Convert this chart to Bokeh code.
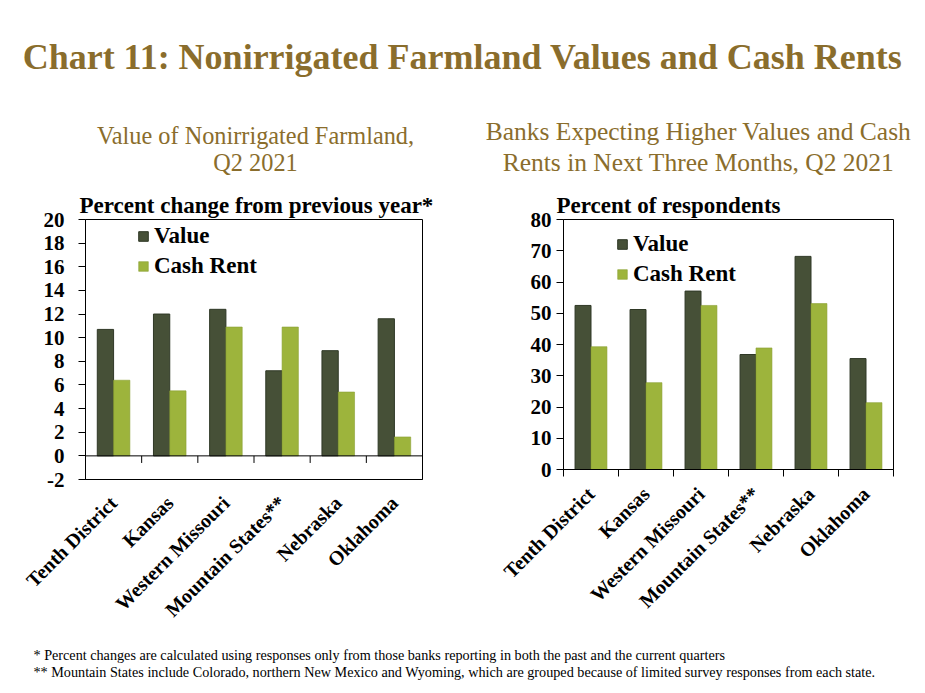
import numpy as np
from bokeh.plotting import figure
from bokeh.models import Range1d, FixedTicker, Span, Title, Label
from bokeh.layouts import column, row
from bokeh.embed import file_html
from bokeh.resources import INLINE

# ---------------- data ----------------
categories = ["Tenth District", "Kansas", "Western Missouri",
              "Mountain States**", "Nebraska", "Oklahoma"]
series_names = ["Value", "Cash Rent"]
left_value = [10.7, 12.0, 12.4, 7.2, 8.9, 11.6]
left_cash = [6.4, 5.5, 10.9, 10.9, 5.4, 1.6]
right_value = [52.5, 51.2, 57.1, 36.8, 68.2, 35.5]
right_cash = [39.3, 27.8, 52.5, 38.9, 53.1, 21.4]
left_ticks = [-2, 0, 2, 4, 6, 8, 10, 12, 14, 16, 18, 20]
right_ticks = [0, 10, 20, 30, 40, 50, 60, 70, 80]

main_title = "Chart 11: Nonirrigated Farmland Values and Cash Rents"
left_subtitle = ["Value of Nonirrigated Farmland,", "Q2 2021"]
right_subtitle = ["Banks Expecting Higher Values and Cash",
                  "Rents in Next Three Months, Q2 2021"]
left_ylabel = "Percent change from previous year*"
right_ylabel = "Percent of respondents"
footnotes = [
    "* Percent changes are calculated using responses only from those banks reporting in both the past and the current quarters",
    "** Mountain States include Colorado, northern New Mexico and Wyoming, which are grouped because of limited survey responses from each state.",
]

# ---------------- styles ----------------
FONT = "Liberation Serif"
GOLD = "#8a6d2c"
VALUE_C = "#465037"
VALUE_L = "#2f3826"
CASH_C = "#9db43c"
CASH_L = "#8aa032"
BAR_W = 0.29
PAGE_W = 925

n = len(categories)
centers = [i + 0.5 for i in range(n)]
bounds = [float(i) for i in range(n + 1)]
overrides = {c: name for c, name in zip(centers, categories)}


def base_fig(fw, fh, bl, br, bt, bb, yr):
    p = figure(frame_width=fw, frame_height=fh,
               min_border_left=bl, min_border_right=br,
               min_border_top=bt, min_border_bottom=bb,
               x_range=Range1d(0, n), y_range=Range1d(*yr),
               toolbar_location=None, output_backend="svg")
    p.xgrid.visible = False
    p.ygrid.visible = False
    p.outline_line_color = "black"
    p.outline_line_width = 1
    p.background_fill_color = "white"
    p.border_fill_color = "white"
    return p


def add_bars(p, value, cash):
    xv = [c - BAR_W / 2 for c in centers]
    xc = [c + BAR_W / 2 for c in centers]
    p.vbar(x=xv, top=value, bottom=0, width=BAR_W, fill_color=VALUE_C,
           line_color=VALUE_L, line_width=1, legend_label=series_names[0])
    p.vbar(x=xc, top=cash, bottom=0, width=BAR_W, fill_color=CASH_C,
           line_color=CASH_L, line_width=0.6, legend_label=series_names[1])


def style_yaxis(p, ticks, standoff):
    ax = p.yaxis[0]
    ax.ticker = FixedTicker(ticks=ticks)
    ax.major_label_overrides = {t: str(t) for t in ticks}
    ax.major_tick_in = 0
    ax.major_tick_out = 7
    ax.minor_tick_line_color = None
    ax.axis_line_color = "black"
    ax.major_tick_line_color = "black"
    ax.major_label_text_font = FONT
    ax.major_label_text_font_style = "bold"
    ax.major_label_text_font_size = "21px"
    ax.major_label_text_color = "black"
    ax.major_label_standoff = standoff


def style_xaxis(p, standoff, boundary_ticks):
    ax = p.xaxis[0]
    if boundary_ticks:
        ax.ticker = FixedTicker(ticks=centers, minor_ticks=bounds)
        ax.minor_tick_in = 0
        ax.minor_tick_out = 7
        ax.minor_tick_line_color = "black"
    else:
        ax.ticker = FixedTicker(ticks=centers)
        ax.minor_tick_line_color = None
    ax.major_tick_line_color = None
    ax.major_tick_in = 0
    ax.major_tick_out = 0
    ax.major_label_overrides = overrides
    ax.major_label_orientation = np.pi / 4
    ax.axis_line_color = "black"
    ax.major_label_text_font = FONT
    ax.major_label_text_font_style = "bold"
    ax.major_label_text_font_size = "20px"
    ax.major_label_text_color = "black"
    ax.major_label_standoff = standoff


def style_legend(p, loc):
    lg = p.legend[0]
    lg.location = loc
    lg.label_text_font = FONT
    lg.label_text_font_style = "bold"
    lg.label_text_font_size = "23px"
    lg.label_text_color = "black"
    lg.glyph_width = 12
    lg.glyph_height = 12
    lg.label_standoff = 5
    lg.spacing = 4
    lg.padding = 0
    lg.margin = 0
    lg.border_line_color = None
    lg.background_fill_alpha = 0


def add_ylabel(p, text, offset):
    p.add_layout(Title(text=text, align="left", offset=offset, standoff=3,
                       text_font=FONT, text_font_style="bold",
                       text_font_size="23px", text_color="black"), "above")


# ---------------- left chart ----------------
left = base_fig(337, 260, 85, 38, 38, 150, (left_ticks[0], left_ticks[-1]))
add_bars(left, left_value, left_cash)
left.add_layout(Span(location=0, dimension="width", line_color="black", line_width=1))
sep = bounds[1:-1]
left.segment(x0=sep, y0=[0] * len(sep), x1=sep, y1=[-0.6] * len(sep),
             line_color="black", line_width=1)
style_yaxis(left, left_ticks, 14)
style_xaxis(left, 20, False)
style_legend(left, (52, 200))
add_ylabel(left, left_ylabel, -6)

# ---------------- right chart ----------------
right = base_fig(330, 250, 103, 32, 39, 159, (right_ticks[0], right_ticks[-1]))
add_bars(right, right_value, right_cash)
style_yaxis(right, right_ticks, 5)
style_xaxis(right, 14, True)
style_legend(right, (53, 182))
add_ylabel(right, right_ylabel, -7)

# ---------------- header ----------------
HH = 180
header = figure(width=PAGE_W, height=HH, x_range=Range1d(0, PAGE_W), y_range=Range1d(HH, 0),
                x_axis_type=None, y_axis_type=None, toolbar_location=None,
                output_backend="svg", min_border=0)
header.grid.visible = False
header.outline_line_color = None
header.add_layout(Label(x=462, y=56, text=main_title, text_align="center",
                        text_baseline="alphabetic", text_font=FONT,
                        text_font_style="bold", text_font_size="36px",
                        text_color=GOLD))
for txt, yy in zip(left_subtitle, [135, 162]):
    header.add_layout(Label(x=255, y=yy, text=txt, text_align="center",
                            text_baseline="alphabetic", text_font=FONT,
                            text_font_size="24.3px", text_color=GOLD))
for txt, yy in zip(right_subtitle, [131, 162]):
    header.add_layout(Label(x=698, y=yy, text=txt, text_align="center",
                            text_baseline="alphabetic", text_font=FONT,
                            text_font_size="25.5px", text_color=GOLD))

# ---------------- footer ----------------
FH = 65
footer = figure(width=PAGE_W, height=FH, x_range=Range1d(0, PAGE_W), y_range=Range1d(FH, 0),
                x_axis_type=None, y_axis_type=None, toolbar_location=None,
                output_backend="svg", min_border=0)
footer.grid.visible = False
footer.outline_line_color = None
for txt, yy in zip(footnotes, [24, 41]):
    footer.add_layout(Label(x=33, y=yy, text=txt, text_align="left",
                            text_baseline="alphabetic", text_font=FONT,
                            text_font_size="14.2px", text_color="black"))

layout = column(header, row(left, right), footer)
open("out.html", "w").write(file_html(layout, INLINE))
